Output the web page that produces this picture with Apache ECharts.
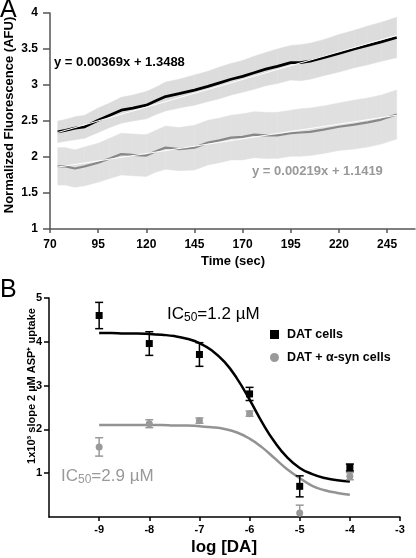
<!DOCTYPE html>
<html>
<head>
<meta charset="utf-8">
<script src="https://cdn.jsdelivr.net/npm/echarts@6/dist/echarts.min.js"></script>
<style>
html,body{margin:0;padding:0;background:#fff;}
#c{width:416px;height:558px;}
</style>
</head>
<body>
<div id="c"></div>
<script>
// ---------- Panel A data ----------
const timeA = [74,78,83,88,95,101,107,113,120,125,130,137,145,152,158,164,170,176,182,188,195,200,205,212,220,228,235,242,250];
const datMeanA = [2.35,2.37,2.40,2.42,2.51,2.58,2.65,2.68,2.72,2.78,2.84,2.88,2.93,2.98,3.03,3.08,3.12,3.17,3.22,3.26,3.31,3.31,3.33,3.38,3.44,3.50,3.55,3.60,3.66];
const datErrA = [0.15,0.15,0.16,0.16,0.17,0.17,0.18,0.18,0.19,0.19,0.20,0.20,0.21,0.21,0.22,0.22,0.22,0.23,0.23,0.24,0.24,0.25,0.25,0.25,0.26,0.26,0.27,0.27,0.28];
const synMeanA = [1.87,1.87,1.84,1.87,1.92,1.98,2.04,2.03,2.02,2.08,2.13,2.11,2.13,2.20,2.23,2.27,2.28,2.31,2.30,2.30,2.33,2.34,2.35,2.38,2.42,2.45,2.48,2.52,2.59];
const synErrA = [0.26,0.26,0.26,0.27,0.27,0.28,0.29,0.29,0.29,0.29,0.30,0.30,0.31,0.31,0.31,0.31,0.32,0.32,0.32,0.32,0.32,0.33,0.33,0.33,0.33,0.34,0.34,0.34,0.34];
const datFitA = [[74,2.34],[250,3.69]];
const synFitA = [[74,1.86],[250,2.58]];
const timeTicks = [70,95,120,145,170,195,220,245];
const datEqText = 'y = 0.00369x + 1.3488';
const synEqText = 'y = 0.00219x + 1.1419';

// ---------- Panel B data ----------
const logDA = [-9,-8,-7,-6,-5,-4];
const datMeanB = [4.60,3.96,3.71,2.81,0.70,1.13];
const datErrB = [0.30,0.27,0.27,0.15,0.24,0.08];
const synMeanB = [1.60,2.13,2.20,2.36,0.09,0.93];
const synErrB = [0.21,0.09,0.06,0.06,0.18,0.08];
const fitX = [-9,-8.75,-8.5,-8.25,-8,-7.75,-7.5,-7.25,-7,-6.75,-6.5,-6.25,-6,-5.75,-5.5,-5.25,-5,-4.75,-4.5,-4.25,-4];
const datFitB = [4.20,4.20,4.19,4.19,4.18,4.16,4.13,4.07,3.97,3.80,3.54,3.16,2.68,2.16,1.71,1.36,1.12,0.98,0.89,0.84,0.81];
const synFitB = [2.10,2.10,2.10,2.10,2.10,2.10,2.09,2.09,2.07,2.05,2.01,1.93,1.79,1.59,1.34,1.09,0.89,0.71,0.61,0.55,0.51];
const seriesNamesB = ['DAT cells','DAT + α-syn cells'];

// ---------- build ----------
const FONT = 'Liberation Sans, Arial, Helvetica, sans-serif';
const GRAY = '#999999';

function bandData(t, m, e){
  const out = [];
  for (let i = 0; i < t.length - 1; i++) {
    out.push([t[i], m[i]-e[i], m[i]+e[i], t[i+1], m[i+1]-e[i+1], m[i+1]+e[i+1]]);
  }
  return out;
}
function bandRender(color){
  return function(params, api){
    const a = api.coord([api.value(0), api.value(1)]);
    const b = api.coord([api.value(0), api.value(2)]);
    const c = api.coord([api.value(3), api.value(5)]);
    const d = api.coord([api.value(3), api.value(4)]);
    return {type:'polygon', shape:{points:[a,b,c,d]}, style:{fill:color, stroke:color, lineWidth:0.5}};
  };
}
function errRender(color){
  return function(params, api){
    const x = api.value(0);
    const lo = api.coord([x, api.value(1)]);
    const hi = api.coord([x, api.value(2)]);
    const w = 4;
    const st = {stroke:color, lineWidth:1.5};
    return {type:'group', children:[
      {type:'line', shape:{x1:lo[0], y1:lo[1], x2:hi[0], y2:hi[1]}, style:st},
      {type:'line', shape:{x1:lo[0]-w, y1:lo[1], x2:lo[0]+w, y2:lo[1]}, style:st},
      {type:'line', shape:{x1:hi[0]-w, y1:hi[1], x2:hi[0]+w, y2:hi[1]}, style:st}
    ]};
  };
}
const zip = (xs, ys) => xs.map((x,i)=>[x, ys[i]]);
const errData = (xs, m, e) => xs.map((x,i)=>[x, m[i]-e[i], m[i]+e[i]]);

const chart = echarts.init(document.getElementById('c'), null, {renderer:'canvas'});
const axisLabelA = {color:'#000', fontFamily:FONT, fontWeight:'bold', fontSize:12};
chart.setOption({
  animation:false,
  textStyle:{fontFamily:FONT},
  grid:[
    {left:50, right:1, top:13, bottom:329, containLabel:false},
    {left:49, right:16, top:298, bottom:41, containLabel:false}
  ],
  xAxis:[
    {gridIndex:0, type:'value', min:70, max:259.5, interval:25,
     axisLine:{lineStyle:{color:'#555', width:1.5}},
     axisTick:{show:true, length:4, lineStyle:{color:'#555', width:1.5}, customValues:timeTicks},
     axisLabel:Object.assign({margin:10, customValues:timeTicks}, axisLabelA),
     splitLine:{show:false}},
    {gridIndex:1, type:'value', min:-10, max:-3, interval:1,
     axisLine:{lineStyle:{color:'#000', width:1.5}},
     axisTick:{show:true, length:4, lineStyle:{color:'#000', width:1.5}},
     axisLabel:{margin:7, color:'#000', fontFamily:FONT, fontWeight:'bold', fontSize:11, showMinLabel:false},
     splitLine:{show:false}}
  ],
  yAxis:[
    {gridIndex:0, type:'value', min:1, max:4, interval:0.5,
     axisLine:{show:true, lineStyle:{color:'#555', width:1.5}},
     axisTick:{show:true, length:7, lineStyle:{color:'#555', width:1.5}},
     axisLabel:Object.assign({margin:12}, axisLabelA),
     splitLine:{show:false}},
    {gridIndex:1, type:'value', min:0, max:5, interval:1,
     axisLine:{show:true, lineStyle:{color:'#000', width:1.5}},
     axisTick:{show:true, length:5, lineStyle:{color:'#000', width:1.5}},
     axisLabel:{margin:7, color:'#000', fontFamily:FONT, fontWeight:'bold', fontSize:11, showMinLabel:false},
     splitLine:{show:false}}
  ],
  legend:{
    show:true, orient:'vertical', left:265, top:323, itemWidth:9, itemHeight:9, itemGap:10,
    data:seriesNamesB,
    itemStyle:{opacity:1},
    textStyle:{color:'#000', fontFamily:FONT, fontWeight:'bold', fontSize:12.5, padding:[0,0,0,3]}
  },
  series:[
    // Panel A error bands
    {type:'custom', xAxisIndex:0, yAxisIndex:0, renderItem:bandRender('#e0e0e0'),
     data:bandData(timeA, synMeanA, synErrA), encode:{x:[0,3], y:[1,2,4,5]}, z:1, silent:true},
    {type:'custom', xAxisIndex:0, yAxisIndex:0, renderItem:bandRender('#dcdcdc'),
     data:bandData(timeA, datMeanA, datErrA), encode:{x:[0,3], y:[1,2,4,5]}, z:1, silent:true},
    // Panel A mean traces
    {type:'line', xAxisIndex:0, yAxisIndex:0, data:zip(timeA, synMeanA), showSymbol:false,
     lineStyle:{color:'#888', width:2.2}, z:3},
    {type:'line', xAxisIndex:0, yAxisIndex:0, data:zip(timeA, datMeanA), showSymbol:false,
     lineStyle:{color:'#000', width:2.8}, z:3},
    // Panel A fits
    {type:'line', xAxisIndex:0, yAxisIndex:0, data:datFitA, showSymbol:false,
     lineStyle:{color:'#fff', width:1}, z:4},
    {type:'line', xAxisIndex:0, yAxisIndex:0, data:synFitA, showSymbol:false,
     lineStyle:{color:'#fff', width:1}, z:4},
    // Panel B fitted curves
    {type:'line', xAxisIndex:1, yAxisIndex:1, data:zip(fitX, datFitB), smooth:true, showSymbol:false,
     lineStyle:{color:'#000', width:2.5}, z:3},
    {type:'line', xAxisIndex:1, yAxisIndex:1, data:zip(fitX, synFitB), smooth:true, showSymbol:false,
     lineStyle:{color:'#939393', width:2.5}, z:3},
    // Panel B error bars
    {type:'custom', xAxisIndex:1, yAxisIndex:1, renderItem:errRender('#000'),
     data:errData(logDA, datMeanB, datErrB), encode:{x:0, y:[1,2]}, clip:true, z:5},
    {type:'custom', xAxisIndex:1, yAxisIndex:1, renderItem:errRender('#999'),
     data:errData(logDA, synMeanB, synErrB), encode:{x:0, y:[1,2]}, clip:true, z:5},
    // Panel B points
    {name:seriesNamesB[0], type:'scatter', xAxisIndex:1, yAxisIndex:1, data:zip(logDA, datMeanB),
     symbol:'rect', symbolSize:7, itemStyle:{color:'#000', opacity:1}, z:6},
    {name:seriesNamesB[1], type:'scatter', xAxisIndex:1, yAxisIndex:1, data:zip(logDA, synMeanB),
     symbol:'circle', symbolSize:7, itemStyle:{color:'#999', opacity:1}, z:6}
  ],
  graphic:[
    {type:'text', left:0, top:-2, style:{text:'A', font:'25px '+FONT, fill:'#000'}},
    {type:'text', left:0, top:278, style:{text:'B', font:'25px '+FONT, fill:'#000'}},
    {type:'text', x:9, y:115, rotation:Math.PI/2,
     style:{text:'Normalized Fluorescence (AFU)', font:'bold 13px '+FONT, fill:'#000', align:'center', verticalAlign:'middle'}},
    {type:'text', x:233, y:261,
     style:{text:'Time (sec)', font:'bold 13px '+FONT, fill:'#000', align:'center', verticalAlign:'middle'}},
    {type:'text', x:54, y:62,
     style:{text:datEqText, font:'bold 13px '+FONT, fill:'#000', align:'left', verticalAlign:'middle'}},
    {type:'text', x:252, y:171,
     style:{text:synEqText, font:'bold 13px '+FONT, fill:GRAY, align:'left', verticalAlign:'middle'}},
    {type:'text', x:32, y:386, rotation:Math.PI/2,
     style:{text:'1x10³ slope 2 µM ASP⁺ uptake', font:'bold 11px '+FONT, fill:'#000', align:'center', verticalAlign:'middle'}},
    {type:'text', x:224, y:547,
     style:{text:'log [DA]', font:'bold 17px '+FONT, fill:'#000', align:'center', verticalAlign:'middle'}},
    {type:'text', x:167, y:304,
     style:{text:'{a|IC}{s|50}{a|=1.2 µM}', fill:'#000',
       rich:{a:{fontSize:17, fontFamily:FONT, lineHeight:20, fill:'#000'},
             s:{fontSize:12, fontFamily:FONT, lineHeight:20, verticalAlign:'bottom', fill:'#000'}}}},
    {type:'text', x:61, y:466,
     style:{text:'{a|IC}{s|50}{a|=2.9 µM}', fill:GRAY,
       rich:{a:{fontSize:17, fontFamily:FONT, lineHeight:20, fill:GRAY},
             s:{fontSize:12, fontFamily:FONT, lineHeight:20, verticalAlign:'bottom', fill:GRAY}}}}
  ]
});
</script>
</body>
</html>
